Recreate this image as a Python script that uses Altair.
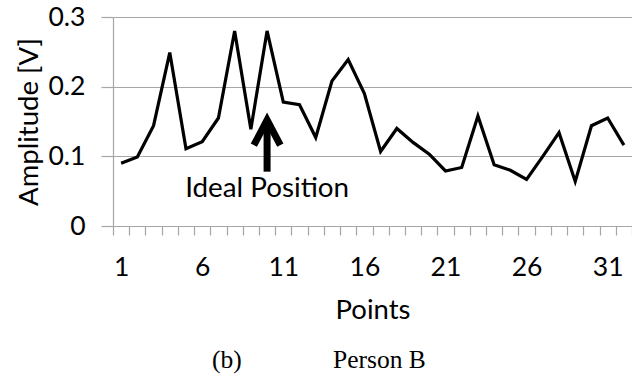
import altair as alt
import pandas as pd

# Measured amplitude at each sampled point
points = list(range(1, 33))
amplitude = [0.090, 0.099, 0.144, 0.249, 0.111, 0.121, 0.155, 0.280, 0.139, 0.280,
             0.178, 0.174, 0.127, 0.208, 0.239, 0.190, 0.107, 0.140, 0.120, 0.103,
             0.079, 0.084, 0.158, 0.088, 0.080, 0.067, 0.100, 0.134, 0.064, 0.144,
             0.155, 0.116]

# Annotation: arrow pointing at the ideal position
ideal_point = [10]
arrow_tip = [0.152]
arrow_tail = [0.078]
ideal_label = ["Ideal Position"]
ideal_label_y = [0.042]

# Panel caption
caption_parts = ["(b)", "Person B"]

y_ticks = [0, 0.1, 0.2, 0.3]

FONT = "Lato"
SERIF = "Liberation Serif"
GREY = "#a6a6a6"

series = pd.DataFrame({"Points": points, "Amplitude": amplitude})
arrow = pd.DataFrame({"Points": ideal_point, "tip": arrow_tip, "tail": arrow_tail,
                      "label": ideal_label, "label_y": ideal_label_y})

x_scale = alt.Scale(type="band", paddingInner=0, paddingOuter=0, domain=points)
y_scale = alt.Scale(domain=[0, 0.3], nice=False)

x_enc = alt.X(
    "Points:O", bandPosition=0.5, scale=x_scale,
    axis=alt.Axis(
        title="Points", labelAngle=0, tickBand="extent", grid=False,
        labelExpr="(datum.value - 1) % 5 == 0 ? datum.label : ''",
        tickSize=9, labelPadding=19.5, titlePadding=15,
    ),
)
y_enc = alt.Y(
    "Amplitude:Q", scale=y_scale,
    axis=alt.Axis(
        title="Amplitude [V]", values=y_ticks, format=".1~f", grid=True,
        tickSize=12, labelPadding=16, titlePadding=5,
    ),
)

line = alt.Chart(series).mark_line(color="black", strokeWidth=3.2).encode(x=x_enc, y=y_enc)

x_arrow = alt.X("Points:O", bandPosition=0.5, scale=x_scale)

shaft = alt.Chart(arrow).mark_rule(color="black", strokeWidth=7).encode(
    x=x_arrow, y=alt.Y("tail:Q", scale=y_scale), y2="tip:Q"
)
head = alt.Chart(arrow).mark_point(
    shape="M-1,1.9L0,0L1,1.9", filled=False, stroke="black", strokeWidth=7,
    size=700, opacity=1,
).encode(x=x_arrow, y=alt.Y("tip:Q", scale=y_scale))

label = alt.Chart(arrow).mark_text(
    font=FONT, fontSize=27.8, color="black", align="center", baseline="alphabetic"
).encode(x=x_arrow, y=alt.Y("label_y:Q", scale=y_scale), text="label:N")

cap_b = alt.Chart(pd.DataFrame({"t": [caption_parts[0]]})).mark_text(
    font=SERIF, fontSize=25.5, color="black", align="left", baseline="alphabetic"
).encode(x=alt.value(99), y=alt.value(351), text="t:N")
cap_person = alt.Chart(pd.DataFrame({"t": [caption_parts[1]]})).mark_text(
    font=SERIF, fontSize=25.5, color="black", align="left", baseline="alphabetic"
).encode(x=alt.value(220), y=alt.value(351), text="t:N")

chart = (
    alt.layer(line, shaft, head, label, cap_b, cap_person)
    .properties(
        width=519, height=209,
        autosize=alt.AutoSizeParams(type="none"),
        padding={"left": 113, "top": 17, "right": 0, "bottom": 149},
    )
    .configure_view(strokeWidth=0)
    .configure_axis(
        domainColor=GREY, tickColor=GREY, gridColor=GREY, domainWidth=1.2,
        tickWidth=1.2, gridWidth=1.2,
        labelFont=FONT, titleFont=FONT, labelFontSize=26.5, titleFontSize=27.5,
        labelColor="black", titleColor="black", titleFontWeight="normal",
    )
)

chart.save("out.html", embed_options={"renderer": "svg", "actions": False})
